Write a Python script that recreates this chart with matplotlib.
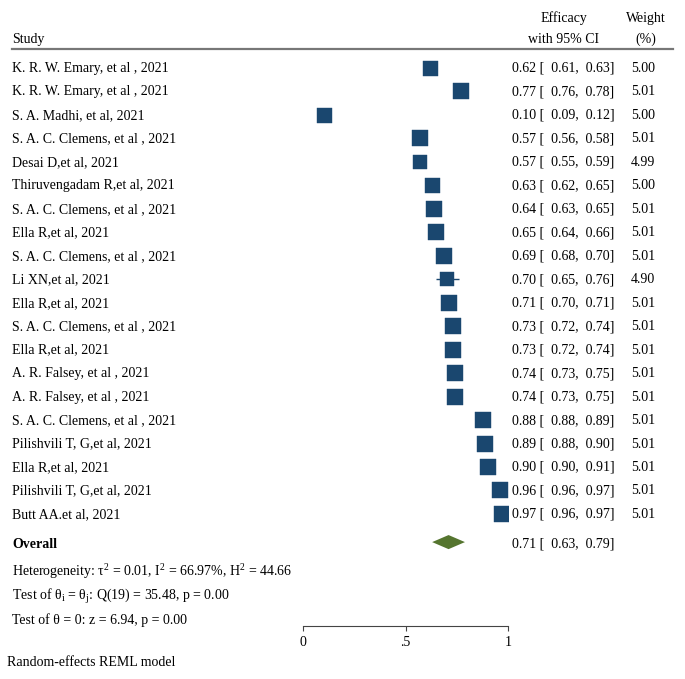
import numpy as np
import matplotlib.pyplot as plt
from matplotlib.transforms import blended_transform_factory

plt.rcParams['font.family'] = ['Liberation Serif', 'DejaVu Serif']
plt.rcParams['mathtext.fontset'] = 'custom'
plt.rcParams['mathtext.rm'] = 'Liberation Serif'
plt.rcParams['mathtext.it'] = 'Liberation Serif:italic'

studies = [
    "K. R. W. Emary, et al , 2021",
    "K. R. W. Emary, et al , 2021",
    "S. A. Madhi, et al, 2021",
    "S. A. C. Clemens, et al , 2021",
    "Desai D,et al, 2021",
    "Thiruvengadam R,et al, 2021",
    "S. A. C. Clemens, et al , 2021",
    "Ella R,et al, 2021",
    "S. A. C. Clemens, et al , 2021",
    "Li XN,et al, 2021",
    "Ella R,et al, 2021",
    "S. A. C. Clemens, et al , 2021",
    "Ella R,et al, 2021",
    "A. R. Falsey, et al , 2021",
    "A. R. Falsey, et al , 2021",
    "S. A. C. Clemens, et al , 2021",
    "Pilishvili T, G,et al, 2021",
    "Ella R,et al, 2021",
    "Pilishvili T, G,et al, 2021",
    "Butt AA.et al, 2021",
]
effect = [0.62, 0.77, 0.10, 0.57, 0.57, 0.63, 0.64, 0.65, 0.69, 0.70,
          0.71, 0.73, 0.73, 0.74, 0.74, 0.88, 0.89, 0.90, 0.96, 0.97]
lower = [0.61, 0.76, 0.09, 0.56, 0.55, 0.62, 0.63, 0.64, 0.68, 0.65,
         0.70, 0.72, 0.72, 0.73, 0.73, 0.88, 0.88, 0.90, 0.96, 0.96]
upper = [0.63, 0.78, 0.12, 0.58, 0.59, 0.65, 0.65, 0.66, 0.70, 0.76,
         0.71, 0.74, 0.74, 0.75, 0.75, 0.89, 0.90, 0.91, 0.97, 0.97]
weight = [5.00, 5.01, 5.00, 5.01, 4.99, 5.00, 5.01, 5.01, 5.01, 4.90,
          5.01, 5.01, 5.01, 5.01, 5.01, 5.01, 5.01, 5.01, 5.01, 5.01]
overall = (0.71, 0.63, 0.79)
het_lines = [
    r"Heterogeneity: τ$^\mathrm{2}$ = 0.01, I$^\mathrm{2}$ = 66.97%, H$^\mathrm{2}$ = 44.66",
    r"Test of θ$_\mathrm{i}$ = θ$_\mathrm{j}$: Q(19) = 35.48, p = 0.00",
    "Test of θ = 0: z = 6.94, p = 0.00",
]
ticks = [0, 0.5, 1]
tick_labels = ["0", ".5", "1"]

navy = "#1a476f"
green = "#55752f"
W, H = 685, 679
fs = 10

fig = plt.figure(figsize=(W / 100, H / 100), dpi=100)
# axis spans x=0..1 between pixels 303 and 508; bottom spine at pixel 626
ax = fig.add_axes([303 / W, (H - 626) / H, 205 / W, 626 / H])
row0, dy = 68, 23.47
ax.set_xlim(0, 1)
ax.set_ylim((626 - row0) / dy, -row0 / dy)
for s in ["top", "left", "right"]:
    ax.spines[s].set_visible(False)
ax.spines["bottom"].set_color("#444444")
ax.spines["bottom"].set_linewidth(0.8)
ax.set_yticks([])
ax.set_xticks(ticks)
ax.set_xticklabels(tick_labels, fontsize=fs)
ax.tick_params(axis="x", length=3.5, width=0.8, color="#444444", pad=4)

ys = np.arange(len(studies))
ax.hlines(ys, lower, upper, color=navy, lw=1.0, zorder=2)
for y, e, w in zip(ys, effect, weight):
    ax.plot(e, y, marker="s", ms=10.8 * np.sqrt(w / 5.0), color=navy,
            mec=navy, mew=0.3, zorder=3)

y_ov = 20.2
ov_e, ov_lo, ov_hi = overall
ax.fill([ov_lo, ov_e, ov_hi, ov_e], [y_ov, y_ov - 0.3, y_ov, y_ov + 0.3],
        color=green, lw=0, zorder=3, clip_on=False)

tr = blended_transform_factory(fig.transFigure, ax.transData)
px = lambda p: p / W
bl = 0.17  # baseline offset below row centre

ax.text(px(12), -1.24 + bl, "Study", transform=tr, fontsize=fs, va="baseline")
ax.text(px(564), -2.13 + bl, "Efficacy", transform=tr, fontsize=fs, va="baseline", ha="center")
ax.text(px(564), -1.24 + bl, "with 95% CI", transform=tr, fontsize=fs, va="baseline", ha="center")
ax.text(px(646), -2.13 + bl, "Weight", transform=tr, fontsize=fs, va="baseline", ha="center")
ax.text(px(646), -1.24 + bl, "(%)", transform=tr, fontsize=fs, va="baseline", ha="center")
ax.plot([px(12), px(673)], [-0.81, -0.81], transform=tr, color="#777777",
        lw=1.6, clip_on=False)

for y, name, e, lo, hi, w in zip(ys, studies, effect, lower, upper, weight):
    ax.text(px(12), y + bl, name, transform=tr, fontsize=fs, va="baseline")
    ax.text(px(512), y + bl, f"{e:.2f} [  {lo:.2f},  {hi:.2f}]", transform=tr,
            fontsize=fs, va="baseline")
    ax.text(px(655), y + bl, f"{w:.2f}", transform=tr, fontsize=fs,
            va="baseline", ha="right")

ax.text(px(12), y_ov + 0.1 + bl, "Overall", transform=tr, fontsize=fs,
        va="baseline", fontweight="bold")
ax.text(px(512), y_ov + 0.05 + bl, f"{ov_e:.2f} [  {ov_lo:.2f},  {ov_hi:.2f}]",
        transform=tr, fontsize=fs, va="baseline")
for i, line in enumerate(het_lines):
    ax.text(px(12), 21.47 + i * 1.02 + bl, line, transform=tr, fontsize=fs,
            va="baseline")

fig.text(px(7), 1 - 666 / H, "Random-effects REML model", fontsize=fs, va="baseline")

fig.savefig("out.png", dpi=100, facecolor="white")
